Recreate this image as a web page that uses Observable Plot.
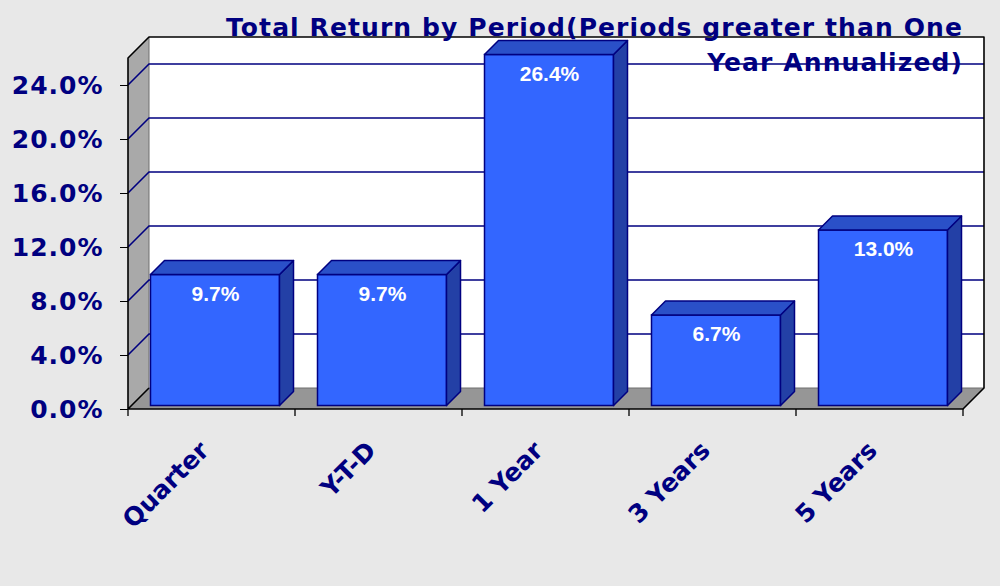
<!DOCTYPE html>
<html><head><meta charset="utf-8">
<script src="https://cdn.jsdelivr.net/npm/d3@7"></script>
<script src="https://cdn.jsdelivr.net/npm/@observablehq/plot@0.6"></script>
<style>
html,body{margin:0;padding:0;background:#e8e8e8;}
#wrap{position:relative;width:1000px;height:586px;overflow:hidden;}
#title{position:absolute;right:37px;top:10px;text-align:right;font-family:"DejaVu Sans";font-weight:bold;font-size:25px;letter-spacing:1.1px;line-height:35px;color:#000080;white-space:nowrap;}
</style></head><body>
<div id="wrap"><div id="chart"></div><div id="title"></div></div>
<script>
// ---- data ----
const categories = ["Quarter", "Y-T-D", "1 Year", "3 Years", "5 Years"];
const returns = [9.7, 9.7, 26.4, 6.7, 13.0];
const valueLabels = ["9.7%", "9.7%", "26.4%", "6.7%", "13.0%"];
const yTicks = [0, 4, 8, 12, 16, 20, 24];
const yTickLabels = ["0.0%", "4.0%", "8.0%", "12.0%", "16.0%", "20.0%", "24.0%"];
const yMax = 26;
const titleLines = ["Total Return by Period(Periods greater than One", "Year Annualized)"];

// ---- style ----
const NAVY = "#000080";
const WALL = 21, BAR_D = 14, BAR_OFF = 3.5, INSET = 19;
const FRONT = "#3366ff", TOP = "#2a50c8", SIDE = "#2340a6";

document.getElementById("title").innerHTML = titleLines.join("<br>");

const data = categories.map((c, i) => ({cat: c, value: returns[i], label: valueLabels[i]}));

function geom(x, y) {
  const x0 = x(categories[0]);
  const bw = x(categories[1]) - x0;
  const x1 = x(categories[categories.length - 1]) + bw;
  return {x0, bw, x1, y0: y(0), yt: y(yMax)};
}
const pts = a => a.map(p => p.join(",")).join(" ");

// walls, floor, gridlines
function walls(index, {x, y}) {
  const {x0, x1, y0, yt} = geom(x, y);
  const g = d3.create("svg:g");
  const D = WALL;
  g.append("polygon").attr("points", pts([[x0, y0], [x0, yt], [x0 + D, yt - D], [x0 + D, y0 - D]]))
    .attr("fill", "#a9a9a9");
  g.append("polygon").attr("points", pts([[x0, y0], [x1, y0], [x1 + D, y0 - D], [x0 + D, y0 - D]]))
    .attr("fill", "#969696");
  g.append("rect").attr("x", x0 + D).attr("y", yt - D).attr("width", x1 - x0).attr("height", y0 - yt)
    .attr("fill", "white");
  g.append("path").attr("d", `M${x0 + D},${yt - D}V${y0 - D}H${x1 + D}`)
    .attr("fill", "none").attr("stroke", "#6e6e6e").attr("stroke-width", 1);
  for (const t of yTicks) {
    if (t === 0) continue;
    const yy = y(t);
    g.append("path").attr("d", `M${x0},${yy}L${x0 + D},${yy - D}H${x1 + D}`)
      .attr("fill", "none").attr("stroke", NAVY).attr("stroke-width", 1.6);
  }
  g.append("path")
    .attr("d", `M${x0},${y0}V${yt}L${x0 + D},${yt - D}H${x1 + D}V${y0 - D}L${x1},${y0}H${x0}L${x0 + D},${y0 - D}`)
    .attr("fill", "none").attr("stroke", "black").attr("stroke-width", 1.6).attr("stroke-linejoin", "round");
  for (let i = 0; i <= categories.length; i++) {
    const xx = i < categories.length ? x(categories[i]) : x1;
    g.append("line").attr("x1", xx).attr("x2", xx).attr("y1", y0).attr("y2", y0 + 7)
      .attr("stroke", "black").attr("stroke-width", 1.3);
  }
  return g.node();
}

// bar top and side faces
function barFaces(index, {x, y}) {
  const {bw, y0} = geom(x, y);
  const g = d3.create("svg:g").attr("stroke", NAVY).attr("stroke-width", 1.5).attr("stroke-linejoin", "round");
  const d = BAR_D;
  for (const r of data) {
    const l = x(r.cat) + INSET + BAR_OFF, rt = x(r.cat) + bw - INSET + BAR_OFF;
    const t = y(r.value) - BAR_OFF, b = y0 - BAR_OFF;
    g.append("polygon").attr("points", pts([[rt, t], [rt + d, t - d], [rt + d, b - d], [rt, b]])).attr("fill", SIDE);
    g.append("polygon").attr("points", pts([[l, t], [l + d, t - d], [rt + d, t - d], [rt, t]])).attr("fill", TOP);
  }
  return g.node();
}

const chart = Plot.plot({
  width: 1000,
  height: 586,
  marginLeft: 128,
  marginRight: 37,
  marginTop: 58,
  marginBottom: 177,
  style: {background: "transparent", overflow: "visible"},
  x: {domain: categories, padding: 0, axis: null},
  y: {domain: [0, yMax], clamp: true},
  marks: [
    walls,
    Plot.barY(data, {x: "cat", y: "value", fill: FRONT, stroke: NAVY, strokeWidth: 1.5,
      insetLeft: INSET, insetRight: INSET, dx: BAR_OFF, dy: -BAR_OFF}),
    barFaces,
    Plot.text(data, {x: "cat", y: "value", text: "label", fill: "white", fontWeight: "bold",
      fontSize: 21, fontFamily: "Liberation Sans", lineAnchor: "top", dx: BAR_OFF, dy: 7.5}),
    Plot.axisY(yTicks, {tickSize: 8, tickPadding: 17, label: null, stroke: "black",
      tickFormat: (d) => yTickLabels[yTicks.indexOf(d)], fill: NAVY, fontSize: 25,
      fontWeight: "bold", fontFamily: "DejaVu Sans"}),
    Plot.text(categories, {x: d => d, frameAnchor: "bottom", rotate: -45, textAnchor: "end",
      lineAnchor: "top", dx: -14, dy: 30, fill: NAVY, fontSize: 25, fontWeight: "bold",
      fontFamily: "DejaVu Sans", ariaLabel: "xlabels"})
  ]
});
d3.select(chart).selectAll("g[aria-label='y-axis tick label'], g[aria-label='xlabels']").style("letter-spacing", "1px");
document.getElementById("chart").append(chart);
</script>
</body></html>
